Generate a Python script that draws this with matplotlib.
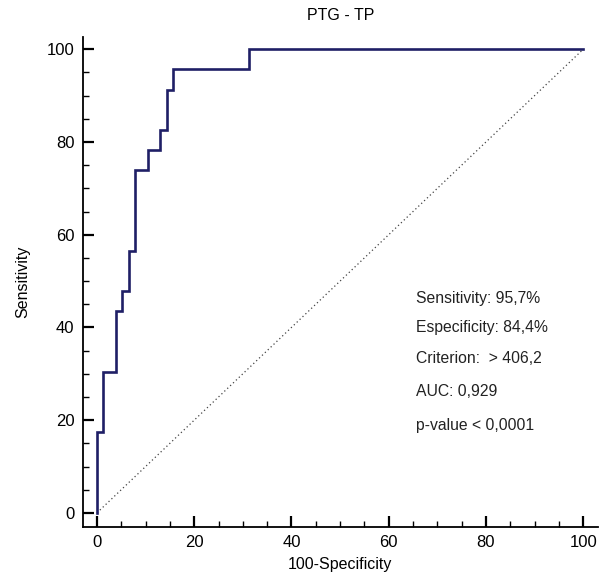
import numpy as np
import matplotlib.pyplot as plt
from matplotlib.ticker import MultipleLocator

plt.rcParams["font.family"] = ["Liberation Sans", "DejaVu Sans"]

# ROC curve points (100-specificity, sensitivity)
fpr = [0, 0, 1.3, 1.3, 3.9, 3.9, 5.2, 5.2, 6.5, 6.5, 7.8, 7.8, 10.4, 10.4,
       13.0, 13.0, 14.3, 14.3, 15.6, 15.6, 31.2, 31.2, 100]
sens = [0, 17.4, 17.4, 30.4, 30.4, 43.5, 43.5, 47.8, 47.8, 56.5, 56.5, 73.9, 73.9, 78.3,
        78.3, 82.6, 82.6, 91.3, 91.3, 95.7, 95.7, 100, 100]

ref_line = [0, 100]

stats = [
    "Sensitivity: 95,7%",
    "Especificity: 84,4%",
    "Criterion:  > 406,2",
    "AUC: 0,929",
    "p-value < 0,0001",
]
stats_y = [46.3, 39.9, 33.2, 26.1, 18.9]

fig = plt.figure(figsize=(6.05, 5.84), dpi=100)
ax = fig.add_axes([0.137, 0.098, 0.851, 0.839])

ax.plot(ref_line, ref_line, color="#444444", linestyle=(0, (1, 2.2)), linewidth=0.9)
ax.plot(fpr, sens, color="#1f1f66", linewidth=1.9, solid_joinstyle="miter")

for txt, yy in zip(stats, stats_y):
    ax.text(65.6, yy, txt, fontsize=11.3, color="#222222", va="center", ha="left")

ax.set_xlim(-2.9, 103)
ax.set_ylim(-3.0, 102.7)
ax.spines["top"].set_visible(False)
ax.spines["right"].set_visible(False)
ax.spines["left"].set_linewidth(1.3)
ax.spines["bottom"].set_linewidth(1.3)

ax.xaxis.set_major_locator(MultipleLocator(20))
ax.xaxis.set_minor_locator(MultipleLocator(5))
ax.yaxis.set_major_locator(MultipleLocator(20))
ax.yaxis.set_minor_locator(MultipleLocator(5))
ax.tick_params(which="major", direction="in", length=8, width=1.6, labelsize=12, pad=6)
ax.tick_params(which="minor", direction="in", length=4.5, width=1.0)

ax.set_title("PTG - TP", fontsize=11.5, pad=12)
ax.set_xlabel("100-Specificity", fontsize=11.5, labelpad=5)
ax.set_ylabel("Sensitivity", fontsize=11.5, labelpad=12)

fig.savefig("out.png", dpi=100)
